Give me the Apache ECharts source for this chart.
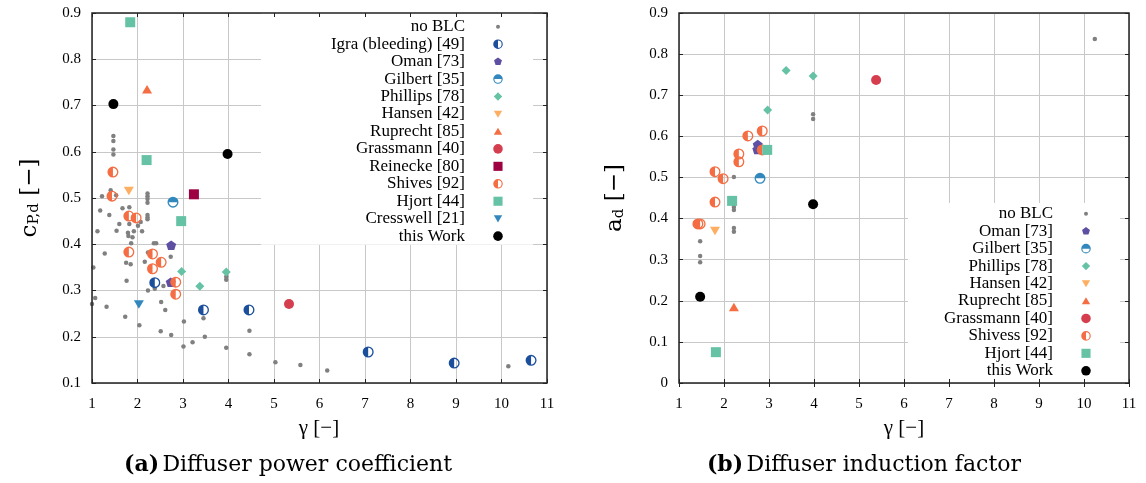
<!DOCTYPE html>
<html>
<head>
<meta charset="utf-8">
<script src="https://cdn.jsdelivr.net/npm/echarts@6/dist/echarts.min.js"></script>
<style>html,body{margin:0;padding:0;background:#fff}#c{width:1146px;height:483px}</style>
</head>
<body>
<div id="c"></div>
<script>
// ---------- data: (a) diffuser power coefficient ----------
const gammaTicks = [1,2,3,4,5,6,7,8,9,10,11];
const cpNoBLC = [[1.47,0.634],[1.47,0.623],[1.47,0.605],[1.47,0.594],[1.41,0.517],[1.22,0.504],[1.53,0.506],
  [2.22,0.510],[2.22,0.504],[2.22,0.498],[2.22,0.490],[1.18,0.473],[1.67,0.478],[1.38,0.463],[1.82,0.480],
  [2.22,0.463],[2.22,0.458],[2.22,0.454],[1.60,0.444],[1.82,0.444],[2.07,0.448],[2.01,0.440],[1.12,0.428],
  [1.54,0.429],[1.79,0.425],[1.92,0.428],[2.10,0.428],[1.80,0.418],[1.89,0.415],[2.36,0.402],[2.41,0.402],
  [1.86,0.402],[1.28,0.380],[2.23,0.382],[1.75,0.360],[1.85,0.357],[2.16,0.362],[2.73,0.373],[1.03,0.350],
  [1.76,0.321],[2.23,0.300],[2.38,0.304],[2.57,0.310],[1.07,0.284],[1.00,0.271],[1.32,0.265],[2.52,0.275],
  [2.61,0.258],[1.73,0.243],[3.02,0.233],[2.04,0.225],[3.45,0.240],[2.51,0.212],[2.74,0.204],[3.48,0.200],
  [3.21,0.188],[3.01,0.179],[3.95,0.176],[4.46,0.213],[4.46,0.162],[5.03,0.145],[5.58,0.139],[6.17,0.127],
  [3.95,0.330],[3.95,0.323],[10.15,0.136]];
const cpIgra = [[2.38,0.317],[3.45,0.258],[4.45,0.258],[7.07,0.167],[8.96,0.143],[10.65,0.149]];
const cpOman = [[2.74,0.398],[2.73,0.318]];
const cpGilbert = [[2.78,0.491]];
const cpPhillips = [[2.97,0.341],[3.95,0.340],[3.37,0.309]];
const cpHansen = [[1.81,0.515]];
const cpRuprecht = [[2.21,0.735]];
const cpGrassmann = [[5.33,0.271]];
const cpReinecke = [[3.24,0.508]];
const cpShives = [[1.46,0.556],[1.44,0.504],[1.81,0.461],[1.97,0.457],[1.81,0.383],[2.33,0.379],[2.52,0.361],
  [2.33,0.347],[2.84,0.318],[2.84,0.292]];
const cpHjort = [[1.84,0.880],[2.20,0.582],[2.96,0.450]];
const cpCresswell = [[2.03,0.270]];
const cpThisWork = [[1.47,0.703],[3.98,0.595]];

// ---------- data: (b) diffuser induction factor ----------
const adNoBLC = [[10.24,0.837],[3.98,0.654],[3.98,0.642],[2.22,0.501],[2.22,0.428],[2.22,0.421],[2.22,0.377],
  [2.22,0.368],[1.47,0.345],[1.47,0.309],[1.47,0.294]];
const adOman = [[2.75,0.580],[2.74,0.568]];
const adGilbert = [[2.80,0.498]];
const adPhillips = [[3.38,0.760],[3.98,0.747],[2.97,0.664]];
const adHansen = [[1.80,0.370]];
const adRuprecht = [[2.22,0.185]];
const adGrassmann = [[5.38,0.737]];
const adShives = [[2.53,0.601],[2.85,0.613],[2.33,0.557],[2.33,0.538],[2.85,0.567],[1.80,0.514],[1.98,0.497],
  [1.80,0.440],[1.42,0.387],[1.47,0.387]];
const adHjort = [[2.18,0.443],[2.96,0.567],[1.82,0.075]];
const adThisWork = [[1.47,0.210],[3.98,0.435]];

// ---------- styles ----------
const FONT = 'Liberation Serif';
const FONT2 = 'DejaVu Serif';
const C = {
  gray:'#808080', igra:'#1b4f9c', oman:'#5e4fa2', gilbert:'#3288bd', phillips:'#66c2a5', hansen:'#fdae61',
  ruprecht:'#f46d43', grassmann:'#d53e4f', reinecke:'#9e0142', shives:'#f46d43', hjort:'#66c2a5',
  cresswell:'#3288bd', work:'#000000'
};
const ring = 'M0,-10 A10,10 0 1 1 0,10 A10,10 0 1 1 0,-10 Z M0,-7.6 A7.6,7.6 0 1 0 0,7.6 A7.6,7.6 0 1 0 0,-7.6 Z ';
const P = {
  circle: 'path://M0,-10 A10,10 0 1 1 0,10 A10,10 0 1 1 0,-10 Z',
  halfLeft: 'path://' + ring + 'M0,-7.6 A7.6,7.6 0 0 0 0,7.6 Z',
  halfTop: 'path://' + ring + 'M-7.6,0 A7.6,7.6 0 0 1 7.6,0 Z',
  pentagon: 'path://M0,-10 L9.51,-3.09 L5.88,8.09 L-5.88,8.09 L-9.51,-3.09 Z',
  diamond: 'path://M0,-10 L10,0 L0,10 L-10,0 Z',
  triDown: 'path://M-10,-8 L10,-8 L0,9 Z',
  triUp: 'path://M0,-9 L10,8 L-10,8 Z',
  square: 'path://M-10,-10 L10,-10 L10,10 L-10,10 Z'
};
// legend icons (padded box controls the drawn size inside the icon cell)
const L = {
  dot: 'path://M-10,-10 M10,10 M0,-4 A4,4 0 1 1 0,4 A4,4 0 1 1 0,-4 Z',
  circle: 'path://M-10.5,-10.5 M10.5,10.5 M0,-10 A10,10 0 1 1 0,10 A10,10 0 1 1 0,-10 Z',
  halfLeft: 'path://M-10.5,-10.5 M10.5,10.5 ' + ring + 'M0,-7.6 A7.6,7.6 0 0 0 0,7.6 Z',
  halfTop: 'path://M-10.5,-10.5 M10.5,10.5 ' + ring + 'M-7.6,0 A7.6,7.6 0 0 1 7.6,0 Z',
  pentagon: 'path://M-12,-12 M12,12 M0,-10 L9.51,-3.09 L5.88,8.09 L-5.88,8.09 L-9.51,-3.09 Z',
  diamond: 'path://M-12,-12 M12,12 M0,-10 L10,0 L0,10 L-10,0 Z',
  triDown: 'path://M-12,-12 M12,12 M-10,-8 L10,-8 L0,9 Z',
  triUp: 'path://M-12,-12 M12,12 M0,-9 L10,8 L-10,8 Z',
  square: 'path://M-11,-11 M11,11 M-10,-10 L10,-10 L10,10 L-10,10 Z'
};

function sc(name, data, idx, sym, size, color) {
  return {
    type: 'scatter', name: name, data: data, xAxisIndex: idx, yAxisIndex: idx,
    symbol: sym, symbolSize: size, symbolKeepAspect: true,
    itemStyle: { color: color, opacity: 1 },
    emphasis: { disabled: true }, animation: false
  };
}

const series = [
  sc('no BLC', cpNoBLC, 0, P.circle, 4.5, C.gray),
  sc('Igra (bleeding) [49]', cpIgra, 0, P.halfLeft, 11, C.igra),
  sc('Oman [73]', cpOman, 0, P.pentagon, 10, C.oman),
  sc('Gilbert [35]', cpGilbert, 0, P.halfTop, 11, C.gilbert),
  sc('Phillips [78]', cpPhillips, 0, P.diamond, 9, C.phillips),
  sc('Hansen [42]', cpHansen, 0, P.triDown, 10, C.hansen),
  sc('Ruprecht [85]', cpRuprecht, 0, P.triUp, 10, C.ruprecht),
  sc('Grassmann [40]', cpGrassmann, 0, P.circle, 10, C.grassmann),
  sc('Reinecke [80]', cpReinecke, 0, P.square, 10, C.reinecke),
  sc('Shives [92]', cpShives, 0, P.halfLeft, 11, C.shives),
  sc('Hjort [44]', cpHjort, 0, P.square, 10, C.hjort),
  sc('Cresswell [21]', cpCresswell, 0, P.triDown, 10, C.cresswell),
  sc('this Work', cpThisWork, 0, P.circle, 10, C.work),

  sc('no BLC', adNoBLC, 1, P.circle, 4.5, C.gray),
  sc('Oman [73]', adOman, 1, P.pentagon, 10, C.oman),
  sc('Gilbert [35]', adGilbert, 1, P.halfTop, 11, C.gilbert),
  sc('Phillips [78]', adPhillips, 1, P.diamond, 9, C.phillips),
  sc('Hansen [42]', adHansen, 1, P.triDown, 10, C.hansen),
  sc('Ruprecht [85]', adRuprecht, 1, P.triUp, 10, C.ruprecht),
  sc('Grassmann [40]', adGrassmann, 1, P.circle, 10, C.grassmann),
  sc('Shivess [92]', adShives, 1, P.halfLeft, 11, C.shives),
  sc('Hjort [44]', adHjort, 1, P.square, 10, C.hjort),
  sc('this Work', adThisWork, 1, P.circle, 10, C.work)
];

const legendLeft = [
  ['no BLC', L.dot], ['Igra (bleeding) [49]', L.halfLeft], ['Oman [73]', L.pentagon], ['Gilbert [35]', L.halfTop],
  ['Phillips [78]', L.diamond], ['Hansen [42]', L.triDown], ['Ruprecht [85]', L.triUp], ['Grassmann [40]', L.circle],
  ['Reinecke [80]', L.square], ['Shives [92]', L.halfLeft], ['Hjort [44]', L.square], ['Cresswell [21]', L.triDown],
  ['this Work', L.circle]
];
const legendRight = [
  ['no BLC', L.dot], ['Oman [73]', L.pentagon], ['Gilbert [35]', L.halfTop], ['Phillips [78]', L.diamond],
  ['Hansen [42]', L.triDown], ['Ruprecht [85]', L.triUp], ['Grassmann [40]', L.circle], ['Shivess [92]', L.halfLeft],
  ['Hjort [44]', L.square], ['this Work', L.circle]
];

const tickStyle = { show: true, inside: true, length: 4, lineStyle: { color: '#222', width: 1 } };
const splitStyle = { show: true, lineStyle: { color: '#c8c8c8', width: 1 } };
const labelStyle = { fontFamily: FONT, fontSize: 15, color: '#000' };

// opts: labels, ticks, split, z
function xAx(grid, pos, o) {
  return { type: 'value', gridIndex: grid, position: pos, min: 1, max: 11, interval: 1, z: o.z,
    axisLine: { show: false }, axisTick: o.ticks ? tickStyle : { show: false },
    splitLine: o.split ? splitStyle : { show: false },
    axisLabel: o.labels ? Object.assign({ margin: 14 }, labelStyle) : { show: false } };
}
function yAx(grid, pos, min, o) {
  return { type: 'value', gridIndex: grid, position: pos, min: min, max: 0.9, interval: 0.1, z: o.z,
    axisLine: { show: false }, axisTick: o.ticks ? tickStyle : { show: false },
    splitLine: o.split ? splitStyle : { show: false },
    axisLabel: o.labels ? Object.assign({ margin: 11 }, labelStyle) : { show: false } };
}

function legend(items, right, top, pad) {
  return {
    orient: 'vertical', align: 'right', right: right, top: top, padding: pad, z: 4,
    backgroundColor: '#ffffff', itemWidth: 56, itemHeight: 10, itemGap: 0,
    selectedMode: false, symbolKeepAspect: true,
    textStyle: { fontFamily: FONT, fontSize: 17, color: '#000', lineHeight: 17.45 },
    data: items.map(function (d) { return { name: d[0], icon: d[1] }; })
  };
}

const chart = echarts.init(document.getElementById('c'), null, { renderer: 'canvas' });
chart.setOption({
  animation: false,
  backgroundColor: '#ffffff',
  grid: [
    { left: 92, top: 13, width: 455, height: 370, show: true, borderColor: '#222', borderWidth: 1.5, backgroundColor: 'transparent', z: 10 },
    { left: 679, top: 13, width: 450, height: 370, show: true, borderColor: '#222', borderWidth: 1.5, backgroundColor: 'transparent', z: 10 }
  ],
  xAxis: [
    xAx(0, 'bottom', { labels: true, ticks: true, split: true, z: 0 }),
    xAx(1, 'bottom', { labels: true, ticks: true, split: false, z: 10 }),
    xAx(0, 'top', { labels: false, ticks: true, split: false, z: 10 }),
    xAx(1, 'top', { labels: false, ticks: true, split: true, z: 0 })
  ],
  yAxis: [
    yAx(0, 'left', 0.1, { labels: true, ticks: true, split: true, z: 0 }),
    yAx(1, 'left', 0, { labels: true, ticks: true, split: true, z: 0 }),
    yAx(0, 'right', 0.1, { labels: false, ticks: true, split: false, z: 10 }),
    yAx(1, 'right', 0, { labels: false, ticks: true, split: false, z: 10 })
  ],
  legend: [
    legend(legendLeft, 613, 13, [5, 30, 0, 70]),
    legend(legendRight, 26, 203, [2, 29, 2, 36])
  ],
  series: series,
  graphic: [
    { type: 'text', x: 319, y: 428, style: { text: 'γ [−]', font: '21px "' + FONT + '"', fill: '#000', align: 'center', verticalAlign: 'middle' } },
    { type: 'text', x: 904, y: 428, style: { text: 'γ [−]', font: '21px "' + FONT + '"', fill: '#000', align: 'center', verticalAlign: 'middle' } },
    { type: 'text', x: 30, y: 198, rotation: Math.PI / 2,
      style: { text: '{m|c}{s|P,d}{m| [−]}', align: 'center', verticalAlign: 'middle', fill: '#000',
        rich: { m: { fontFamily: FONT2, fontSize: 23, fill: '#000' }, s: { fontFamily: FONT2, fontSize: 15, fill: '#000', verticalAlign: 'bottom', padding: [9, 0, 0, 0] } } } },
    { type: 'text', x: 615, y: 198, rotation: Math.PI / 2,
      style: { text: '{m|a}{s|d}{m| [−]}', align: 'center', verticalAlign: 'middle', fill: '#000',
        rich: { m: { fontFamily: FONT2, fontSize: 23, fill: '#000' }, s: { fontFamily: FONT2, fontSize: 15, fill: '#000', verticalAlign: 'bottom', padding: [9, 0, 0, 0] } } } },
    { type: 'text', x: 288, y: 465,
      style: { text: '{b|(a)} {r|Diffuser power coefficient}', align: 'center', verticalAlign: 'middle',
        rich: { b: { fontFamily: FONT2, fontSize: 22, fontWeight: 'bold', fill: '#000' }, r: { fontFamily: FONT2, fontSize: 22, fill: '#000' } } } },
    { type: 'text', x: 864, y: 465,
      style: { text: '{b|(b)} {r|Diffuser induction factor}', align: 'center', verticalAlign: 'middle',
        rich: { b: { fontFamily: FONT2, fontSize: 22, fontWeight: 'bold', fill: '#000' }, r: { fontFamily: FONT2, fontSize: 22, fill: '#000' } } } }
  ]
});
</script>
</body>
</html>
